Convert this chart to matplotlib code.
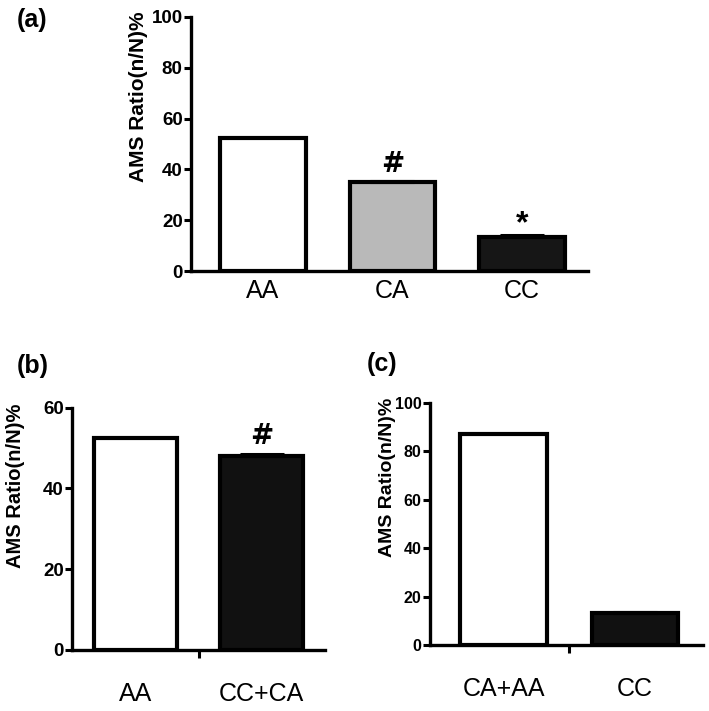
import matplotlib
matplotlib.use("Agg")
import matplotlib.pyplot as plt
import numpy as np

plt.rcParams['font.family'] = ['Liberation Sans', 'DejaVu Sans']

# Panel (a)
a_cats = ["AA", "CA", "CC"]
a_vals = [52.4, 35.0, 13.4]
a_errs = [0.0, 0.6, 0.6]
a_colors = ["white", "#b9b9b9", "#161616"]
a_marks = ["", "#", "*"]
a_yticks = [0, 20, 40, 60, 80, 100]

# Panel (b)
b_cats = ["AA", "CC+CA"]
b_vals = [52.6, 48.1]
b_errs = [0.0, 0.5]
b_colors = ["white", "#111111"]
b_marks = ["", "#"]
b_yticks = [0, 20, 40, 60]

# Panel (c)
c_cats = ["CA+AA", "CC"]
c_vals = [87.2, 13.3]
c_errs = [0.0, 0.5]
c_colors = ["white", "#111111"]
c_yticks = [0, 20, 40, 60, 80, 100]

ylabel = "AMS Ratio(n/N)%"

fig = plt.figure(figsize=(7.09, 7.11), dpi=100)

def draw(ax, cats, vals, errs, colors, yticks, ylim, xlim, mid, tick_fs, cat_fs, cat_pad,
         ylab_fs, ylab_xy, width):
    x = np.arange(len(cats))
    ax.bar(x, vals, width=width, color=colors, edgecolor="black", linewidth=3.0, zorder=2)
    for xi, v, e in zip(x, vals, errs):
        if e > 0:
            ax.errorbar(xi, v, yerr=[[0], [e]], fmt="none", ecolor="black",
                        elinewidth=2, capsize=16, capthick=2.2, zorder=3)
    ax.set_xlim(*xlim)
    ax.set_ylim(*ylim)
    ax.set_yticks(yticks)
    ax.set_yticklabels([str(t) for t in yticks], fontsize=tick_fs, fontweight="bold")
    ax.set_xticks(x)
    ax.set_xticklabels(cats, fontsize=cat_fs)
    ax.tick_params(axis="x", which="major", length=0, pad=cat_pad)
    ax.set_xticks([mid], minor=True)
    ax.tick_params(axis="x", which="minor", length=6, width=2.2, direction="out")
    ax.tick_params(axis="y", length=5, width=2.2, pad=1)
    for s in ["top", "right"]:
        ax.spines[s].set_visible(False)
    for s in ["left", "bottom"]:
        ax.spines[s].set_linewidth(2.4)
    ax.text(ylab_xy[0], ylab_xy[1], ylabel, transform=ax.transAxes, rotation=90,
            ha="center", va="center", fontsize=ylab_fs, fontweight="bold")
    return x

mark_font = ["DejaVu Sans"]

# (a)
axa = fig.add_axes([0.2694, 0.6188, 0.5599, 0.3573])
xa = draw(axa, a_cats, a_vals, a_errs, a_colors, a_yticks, (0, 100), (-0.554, 2.508), 1,
          13.5, 18, 6, 15, (-0.1335, 0.687), 0.66)
for xi, v, e, m in zip(xa, a_vals, a_errs, a_marks):
    if m == "#":
        axa.annotate(m, xy=(xi, v + e), xytext=(0, 12), textcoords="offset points",
                     ha="center", va="center", fontsize=20, fontweight="bold",
                     family=mark_font)
    elif m == "*":
        axa.annotate(m, xy=(xi, v + e), xytext=(0, 8), textcoords="offset points",
                     ha="center", va="center", fontsize=23, fontweight="bold")

# (b)
axb = fig.add_axes([0.1016, 0.0858, 0.3568, 0.3408])
xb = draw(axb, b_cats, b_vals, b_errs, b_colors, b_yticks, (0, 60), (-0.504, 1.504), 0.5,
          13.5, 18, 23, 14.5, (-0.225, 0.677), 0.66)
for xi, v, e, m in zip(xb, b_vals, b_errs, b_marks):
    if m:
        axb.annotate(m, xy=(xi, v + e), xytext=(0, 13), textcoords="offset points",
                     ha="center", va="center", fontsize=20, fontweight="bold",
                     family=mark_font)

# (c)
axc = fig.add_axes([0.6065, 0.0928, 0.385, 0.3408])
draw(axc, c_cats, c_vals, c_errs, c_colors, c_yticks, (0, 100), (-0.56, 1.517), 0.5,
     11.5, 18, 23, 14, (-0.154, 0.691), 0.66)

fig.text(32 / 709, 1 - 20 / 711, "(a)", fontsize=18, fontweight="bold", ha="center", va="center")
fig.text(33 / 709, 1 - 366 / 711, "(b)", fontsize=18, fontweight="bold", ha="center", va="center")
fig.text(382 / 709, 1 - 364 / 711, "(c)", fontsize=18, fontweight="bold", ha="center", va="center")

fig.savefig("out.png", dpi=100)
